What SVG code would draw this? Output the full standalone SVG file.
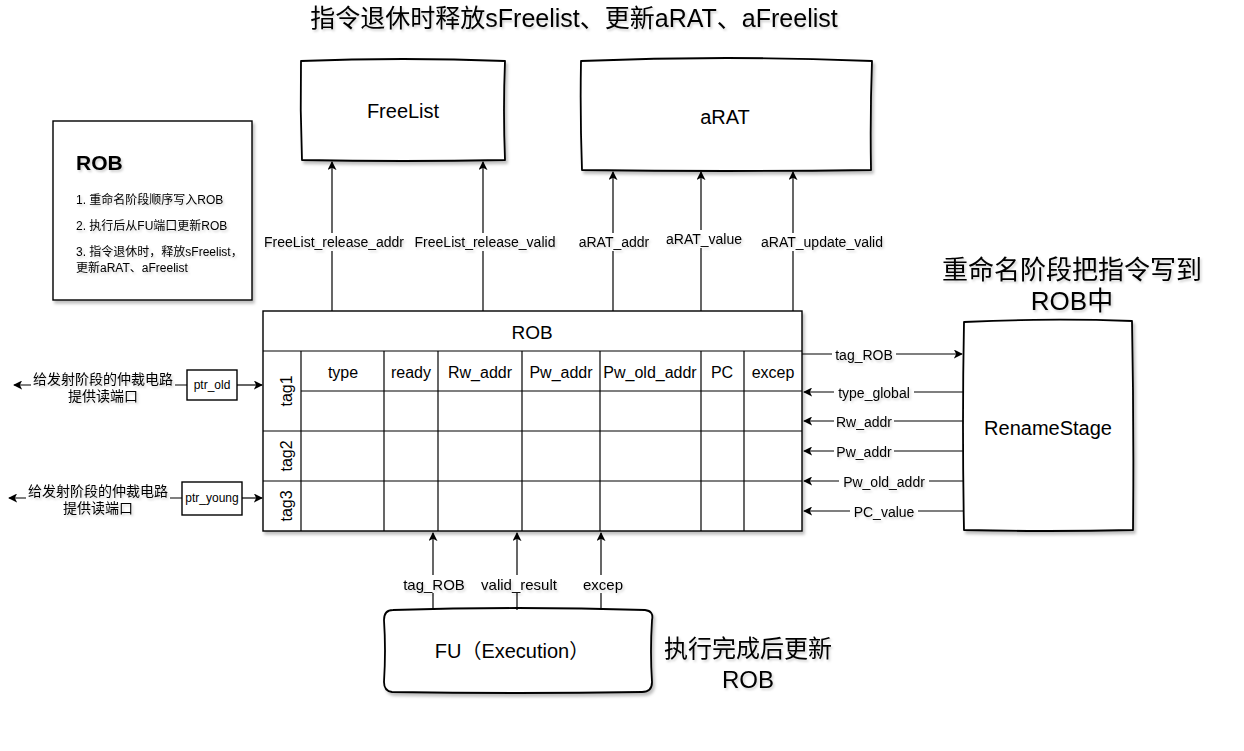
<svg xmlns="http://www.w3.org/2000/svg" width="1244" height="751" viewBox="0 0 1244 751">
<style>
  .t{font-family:"Liberation Sans","Noto Sans CJK SC",Arial,sans-serif;fill:#000}
  .c{text-anchor:middle;dominant-baseline:central}
  .box{fill:#fff;stroke:#000;stroke-width:1.4}
  .sk{fill:#fff;stroke:#000;stroke-width:1.8;stroke-linejoin:round}
  .ln{stroke:#000;stroke-width:1.2;fill:none}
  .lbl{font-size:14px}
  .lb{fill:#fff}
</style>
<defs>
  <filter id="sh" x="-10%" y="-10%" width="130%" height="130%">
    <feDropShadow dx="2" dy="3" stdDeviation="1.6" flood-color="#000" flood-opacity="0.25"/>
  </filter>
  <filter id="ts" x="-10%" y="-20%" width="130%" height="160%">
    <feDropShadow dx="1.5" dy="2" stdDeviation="1.2" flood-color="#000" flood-opacity="0.18"/>
  </filter>
  <marker id="ar" viewBox="0 0 10 10" refX="9" refY="5" markerWidth="9" markerHeight="9" markerUnits="userSpaceOnUse" orient="auto">
    <path d="M0,0 L10,5 L0,10 L2.5,5 Z" fill="#000"/>
  </marker>
</defs>
<rect width="1244" height="751" fill="#fff"/>

<!-- title -->
<g id="title">
  <text class="t c" x="574" y="18" font-size="25" filter="url(#ts)">指令退休时释放sFreelist、更新aRAT、aFreelist</text>
</g>

<!-- notes -->
<g id="note">
  <rect class="box" x="53" y="121" width="199" height="179" filter="url(#sh)"/>
  <g filter="url(#ts)">
  <text class="t" x="76" y="170" font-size="21" font-weight="bold">ROB</text>
  <text class="t" x="76" y="204" font-size="12">1. 重命名阶段顺序写入ROB</text>
  <text class="t" x="76" y="230" font-size="12">2. 执行后从FU端口更新ROB</text>
  <text class="t" x="76" y="256" font-size="12">3. 指令退休时，释放sFreelist，</text>
  <text class="t" x="76" y="272" font-size="12">更新aRAT、aFreelist</text>
  </g>
</g>

<!-- FreeList -->
<g id="freelist">
  <path class="sk" filter="url(#sh)" d="M301,61 Q403,57 505,61 Q503,110 505,160 Q403,162 302,160 Q300,110 301,61 Z"/>
  <text class="t c" x="403" y="111" font-size="20">FreeList</text>
</g>

<!-- aRAT -->
<g id="arat">
  <path class="sk" filter="url(#sh)" d="M581,61 Q727,55 872,61 Q870,115 871,170 Q727,172 582,170 Q580,115 581,61 Z"/>
  <text class="t c" x="725" y="117" font-size="20">aRAT</text>
</g>

<!-- RenameStage -->
<g id="rename">
  <text class="t c" x="1072" y="270" font-size="26" filter="url(#ts)">重命名阶段把指令写到</text>
  <text class="t c" x="1072" y="301" font-size="26" filter="url(#ts)">ROB中</text>
  <path class="sk" filter="url(#sh)" d="M964,322 Q1048,318 1132,321 Q1134,425 1133,530 Q1048,532 964,530 Q962,425 964,322 Z"/>
  <text class="t c" x="1048" y="428" font-size="20">RenameStage</text>
</g>

<!-- FU -->
<g id="fu">
  <path class="sk" filter="url(#sh)" d="M393,610 Q517,606 645,610 Q654,611 652,620 Q650,652 652,682 Q652,692 642,692 Q517,694 392,692 Q384,691 384,682 Q386,650 384,620 Q384,610 393,610 Z"/>
  <text class="t c" x="512" y="651" font-size="20">FU（Execution）</text>
  <text class="t c" x="748" y="648" font-size="24" filter="url(#ts)">执行完成后更新</text>
  <text class="t c" x="748" y="679" font-size="24" filter="url(#ts)">ROB</text>
</g>

<!-- ROB table -->
<g id="rob">
  <rect class="box" x="263" y="311" width="539" height="220" filter="url(#sh)"/>
  <g class="ln" stroke-width="1.4">
    <line x1="263" y1="351" x2="802" y2="351"/>
    <line x1="301" y1="391" x2="802" y2="391"/>
    <line x1="263" y1="431" x2="802" y2="431"/>
    <line x1="263" y1="481" x2="802" y2="481"/>
    <line x1="301" y1="351" x2="301" y2="531"/>
    <line x1="384" y1="351" x2="384" y2="531"/>
    <line x1="438" y1="351" x2="438" y2="531"/>
    <line x1="522" y1="351" x2="522" y2="531"/>
    <line x1="600" y1="351" x2="600" y2="531"/>
    <line x1="701" y1="351" x2="701" y2="531"/>
    <line x1="744" y1="351" x2="744" y2="531"/>
  </g>
  <text class="t c" x="532" y="332" font-size="19">ROB</text>
  <g font-size="16">
    <text class="t c" x="343" y="372">type</text>
    <text class="t c" x="411" y="372">ready</text>
    <text class="t c" x="480" y="372">Rw_addr</text>
    <text class="t c" x="561" y="372">Pw_addr</text>
    <text class="t c" x="650" y="372">Pw_old_addr</text>
    <text class="t c" x="722" y="372">PC</text>
    <text class="t c" x="773" y="372">excep</text>
    <text class="t c" transform="translate(286,391) rotate(-90)">tag1</text>
    <text class="t c" transform="translate(286,456) rotate(-90)">tag2</text>
    <text class="t c" transform="translate(286,506) rotate(-90)">tag3</text>
  </g>
</g>

<!-- pointers -->
<g id="ptr_old">
  <rect class="box" x="187" y="370" width="50" height="30"/>
  <text class="t c" x="212" y="385" font-size="12">ptr_old</text>
</g>
<g id="ptr_young">
  <rect class="box" x="182" y="482" width="60" height="33"/>
  <text class="t c" x="212" y="498" font-size="12">ptr_young</text>
</g>

<!-- connectors -->
<g id="connectors">
  <g class="ln">
    <!-- top -->
    <line x1="332" y1="311" x2="332" y2="162" marker-end="url(#ar)"/>
    <line x1="483" y1="311" x2="483" y2="162" marker-end="url(#ar)"/>
    <line x1="613" y1="311" x2="613" y2="172" marker-end="url(#ar)"/>
    <line x1="701" y1="311" x2="701" y2="172" marker-end="url(#ar)"/>
    <line x1="793" y1="311" x2="793" y2="172" marker-end="url(#ar)"/>
    <!-- right -->
    <line x1="802" y1="354" x2="962" y2="354" marker-end="url(#ar)"/>
    <line x1="963" y1="392" x2="804" y2="392" marker-end="url(#ar)"/>
    <line x1="963" y1="421" x2="804" y2="421" marker-end="url(#ar)"/>
    <line x1="963" y1="451" x2="804" y2="451" marker-end="url(#ar)"/>
    <line x1="963" y1="481" x2="804" y2="481" marker-end="url(#ar)"/>
    <line x1="963" y1="511" x2="804" y2="511" marker-end="url(#ar)"/>
    <!-- bottom -->
    <line x1="433" y1="610" x2="433" y2="533" marker-end="url(#ar)"/>
    <line x1="517" y1="610" x2="517" y2="533" marker-end="url(#ar)"/>
    <line x1="601" y1="610" x2="601" y2="533" marker-end="url(#ar)"/>
    <!-- left -->
    <line x1="237" y1="385" x2="262" y2="385" marker-end="url(#ar)"/>
    <line x1="187" y1="385" x2="14" y2="385" marker-end="url(#ar)"/>
    <line x1="242" y1="498" x2="262" y2="498" marker-end="url(#ar)"/>
    <line x1="182" y1="498" x2="9" y2="498" marker-end="url(#ar)"/>
  </g>
  <!-- label backgrounds -->
  <g class="lb">
    <rect x="264" y="233" width="141" height="18"/>
    <rect x="413" y="233" width="144" height="18"/>
    <rect x="578" y="233" width="72" height="18"/>
    <rect x="665" y="230" width="78" height="18"/>
    <rect x="756" y="233" width="132" height="18"/>
    <rect x="832" y="346" width="64" height="17"/>
    <rect x="834" y="384" width="80" height="17"/>
    <rect x="834" y="413" width="60" height="17"/>
    <rect x="834" y="443" width="60" height="17"/>
    <rect x="839" y="473" width="90" height="17"/>
    <rect x="850" y="503" width="68" height="17"/>
    <rect x="397" y="575" width="74" height="18"/>
    <rect x="473" y="575" width="93" height="18"/>
    <rect x="578" y="575" width="50" height="18"/>
    <rect x="31" y="369" width="144" height="36"/>
    <rect x="26" y="481" width="144" height="36"/>
  </g>
  <g class="lbl" filter="url(#ts)">
    <text class="t c" x="334" y="242">FreeList_release_addr</text>
    <text class="t c" x="485" y="242">FreeList_release_valid</text>
    <text class="t c" x="614" y="242">aRAT_addr</text>
    <text class="t c" x="704" y="239">aRAT_value</text>
    <text class="t c" x="822" y="242">aRAT_update_valid</text>
    <text class="t c" x="864" y="355">tag_ROB</text>
    <text class="t c" x="874" y="393">type_global</text>
    <text class="t c" x="864" y="422">Rw_addr</text>
    <text class="t c" x="864" y="452">Pw_addr</text>
    <text class="t c" x="884" y="482">Pw_old_addr</text>
    <text class="t c" x="884" y="512">PC_value</text>
    <text class="t c" x="434" y="584" font-size="15">tag_ROB</text>
    <text class="t c" x="519" y="584" font-size="15">valid_result</text>
    <text class="t c" x="603" y="584" font-size="15">excep</text>
  </g>
  <g font-size="14" filter="url(#ts)">
    <text class="t c" x="103" y="379">给发射阶段的仲裁电路</text>
    <text class="t c" x="103" y="396">提供读端口</text>
    <text class="t c" x="98" y="491">给发射阶段的仲裁电路</text>
    <text class="t c" x="98" y="508">提供读端口</text>
  </g>
</g>
</svg>
